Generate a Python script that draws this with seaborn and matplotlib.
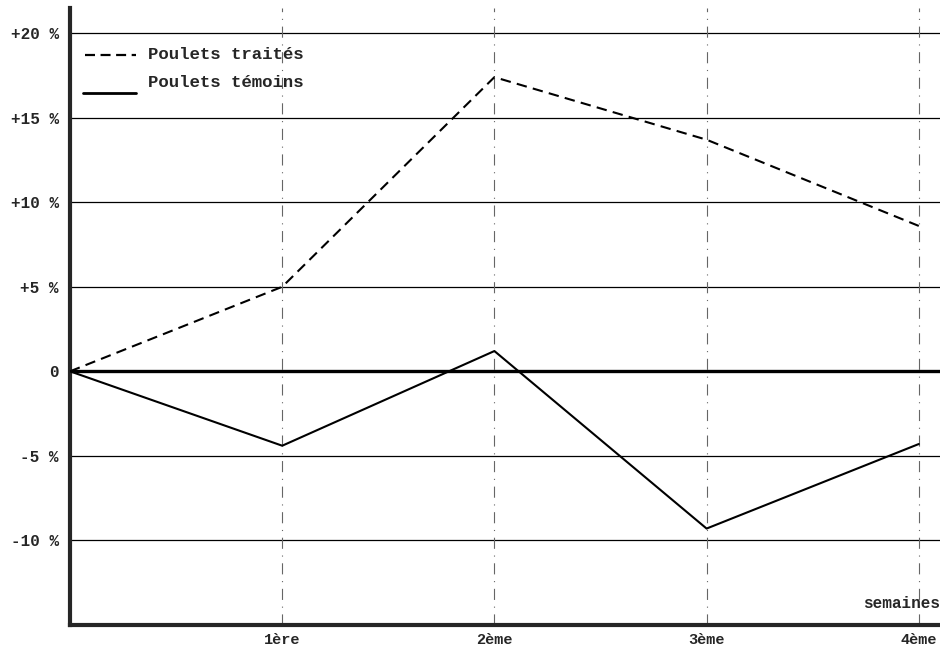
import pandas as pd
import numpy as np
import matplotlib
matplotlib.use("Agg")
import matplotlib.pyplot as plt
import seaborn as sns

# Data
semaines = [0, 1, 2, 3, 4]
traites = [0, 5.0, 17.4, 13.7, 8.6]
temoins = [0, -4.4, 1.2, -9.3, -4.3]
y_ticks = [20, 15, 10, 5, 0, -5, -10]
y_labels = ["+20 %", "+15 %", "+10 %", "+5 %", "0", "-5 %", "-10 %"]
x_labels = ["1ère", "2ème", "3ème", "4ème"]

df = pd.DataFrame({
    "semaine": semaines * 2,
    "variation": traites + temoins,
    "groupe": ["Poulets traités"] * 5 + ["Poulets témoins"] * 5,
})

sns.set_style("white")
plt.rcParams['font.family'] = ['Liberation Mono', 'DejaVu Sans Mono']
plt.rcParams['font.weight'] = 'bold'

fig = plt.figure(figsize=(9.4, 6.53), dpi=100)
ax = fig.add_axes([0.0745, 0.043, 0.9255, 0.945])

# grid
for y in [20, 15, 10, 5, -5, -10]:
    ax.axhline(y, color='black', lw=0.9, zorder=1)
ax.axhline(0, color='black', lw=2.4, zorder=1)
for x in [1, 2, 3, 4]:
    ax.axvline(x, color='#666666', lw=0.8, ls=(0, (10, 6, 1, 6)), zorder=1)

sns.lineplot(data=df, x="semaine", y="variation", hue="groupe", style="groupe",
             palette={"Poulets traités": "black", "Poulets témoins": "black"},
             dashes={"Poulets traités": (5, 3), "Poulets témoins": ""},
             lw=1.5, ax=ax, legend=False, zorder=3)

ax.set_xlim(0, 4.1)
ax.set_ylim(-15, 21.5)

ax.set_yticks(y_ticks)
ax.set_yticklabels(y_labels, fontsize=11.5)
ax.set_xticks([1, 2, 3, 4])
ax.set_xticklabels(x_labels, fontsize=11)
ax.tick_params(axis='y', length=0, pad=8)
ax.tick_params(axis='x', length=0, pad=6)
ax.set_xlabel("")
ax.set_ylabel("")

for side in ['top', 'right']:
    ax.spines[side].set_visible(False)
ax.spines['left'].set_linewidth(3)
ax.spines['bottom'].set_linewidth(3)

ax.text(4.1, -14.2, "semaines", ha='right', va='bottom', fontsize=11.5, fontweight='bold')

# legend drawn as text + lines
ax.plot([0.07, 0.31], [18.72, 18.72], color='black', lw=1.6, ls=(0, (4.5, 2.5)))
ax.text(0.367, 18.72, "Poulets traités", va='center', fontsize=12.5)
ax.plot([0.06, 0.31], [16.45, 16.45], color='black', lw=2)
ax.text(0.367, 17.07, "Poulets témoins", va='center', fontsize=12.5)

fig.savefig("out.png", dpi=100)
